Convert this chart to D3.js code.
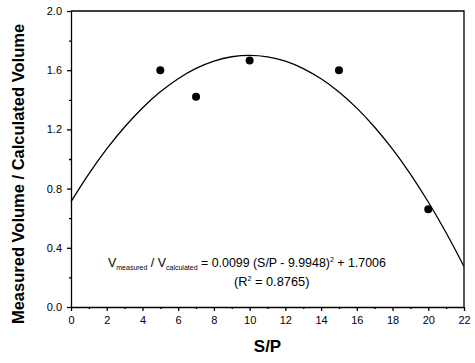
<!DOCTYPE html>
<html>
<head>
<meta charset="utf-8">
<script src="https://cdn.jsdelivr.net/npm/d3@7"></script>
<style>
  body { margin: 0; background: #fff; }
  svg { display: block; font-family: Arial, "Liberation Sans", sans-serif; }
  .axis path, .axis line { stroke: #000; stroke-width: 1.3; }
  .axis text { font-size: 11px; fill: #000; }
</style>
</head>
<body>
<div id="chart"></div>
<script>
// measured points
let spRatio = [5, 7, 10, 15, 20];
let volumeRatio = [1.6, 1.42, 1.665, 1.6, 0.66];

// quadratic fit from the legend: y = -a (x - h)^2 + k
let fitA = 0.0099, fitH = 9.9948, fitK = 1.7006;
let fitX = [0, 1, 2, 3, 4, 5, 6, 7, 8, 9, 10, 11, 12, 13, 14, 15, 16, 17, 18, 19, 20, 21, 22];

let xTicks = [0, 2, 4, 6, 8, 10, 12, 14, 16, 18, 20, 22];
let yTicks = [0.0, 0.4, 0.8, 1.2, 1.6, 2.0];

let width = 475, height = 363;
let margin = { top: 11, right: 11, bottom: 56, left: 71 };

let svg = d3.select("#chart")
  .append("svg")
  .attr("width", width)
  .attr("height", height);

let xScale = d3.scaleLinear()
  .domain([0, 22])
  .range([margin.left, width - margin.right]);

let yScale = d3.scaleLinear()
  .domain([0, 2])
  .range([height - margin.bottom, margin.top]);

// frame top/right
svg.append("path")
  .attr("d", "M" + xScale(0) + "," + yScale(2) + "H" + xScale(22) + "V" + yScale(0))
  .attr("fill", "none")
  .attr("stroke", "#000")
  .attr("stroke-width", 1.3);

// minor ticks
svg.append("g")
  .attr("class", "axis")
  .attr("transform", "translate(0," + yScale(0) + ")")
  .call(d3.axisBottom(xScale).tickValues(d3.range(1, 22, 2)).tickSize(2).tickFormat(""))
  .select(".domain").remove();

svg.append("g")
  .attr("class", "axis")
  .attr("transform", "translate(" + xScale(0) + ",0)")
  .call(d3.axisLeft(yScale).tickValues(d3.range(0.2, 2, 0.4)).tickSize(2).tickFormat(""))
  .select(".domain").remove();

// x axis
svg.append("g")
  .attr("class", "axis")
  .attr("transform", "translate(0," + yScale(0) + ")")
  .call(d3.axisBottom(xScale).tickValues(xTicks).tickSize(4).tickSizeOuter(0).tickPadding(5).tickFormat(d3.format("d")));

// y axis
svg.append("g")
  .attr("class", "axis")
  .attr("transform", "translate(" + xScale(0) + ",0)")
  .call(d3.axisLeft(yScale).tickValues(yTicks).tickSize(4).tickSizeOuter(0).tickPadding(5).tickFormat(d3.format(".1f")));

// fit curve
let line = d3.line()
  .x(d => xScale(d))
  .y(d => yScale(fitK - fitA * (d - fitH) * (d - fitH)))
  .curve(d3.curveCatmullRom.alpha(0.5));

svg.append("path")
  .datum(fitX)
  .attr("d", line)
  .attr("fill", "none")
  .attr("stroke", "#000")
  .attr("stroke-width", 1.3);

// points
svg.selectAll("circle.pt")
  .data(spRatio)
  .enter()
  .append("circle")
  .attr("class", "pt")
  .attr("cx", d => xScale(d))
  .attr("cy", (d, i) => yScale(volumeRatio[i]))
  .attr("r", 4)
  .attr("fill", "#000");

// axis titles
svg.append("text")
  .text("S/P")
  .attr("x", xScale(11))
  .attr("y", 352)
  .attr("text-anchor", "middle")
  .attr("font-size", "17px")
  .attr("font-weight", "bold");

svg.append("text")
  .text("Measured Volume / Calculated Volume")
  .attr("transform", "translate(24,174) rotate(-90)")
  .attr("text-anchor", "middle")
  .attr("font-size", "16.5px")
  .attr("font-weight", "bold");

// fit equation
let eq = svg.append("text")
  .attr("x", 108)
  .attr("y", 267)
  .attr("font-size", "12.4px");
eq.append("tspan").text("V");
eq.append("tspan").text("measured").attr("font-size", "7px").attr("dy", 3);
eq.append("tspan").text(" / V").attr("dy", -3);
eq.append("tspan").text("calculated").attr("font-size", "7px").attr("dy", 3);
eq.append("tspan").text(" = " + fitA + " (S/P - " + fitH + ")").attr("dy", -3);
eq.append("tspan").text("2").attr("font-size", "7px").attr("dy", -5);
eq.append("tspan").text(" + " + fitK).attr("dy", 5);

let r2 = svg.append("text")
  .attr("x", 234)
  .attr("y", 286)
  .attr("font-size", "12.8px");
r2.append("tspan").text("(R");
r2.append("tspan").text("2").attr("font-size", "7px").attr("dy", -5);
r2.append("tspan").text(" = 0.8765)").attr("dy", 5);
</script>
</body>
</html>
